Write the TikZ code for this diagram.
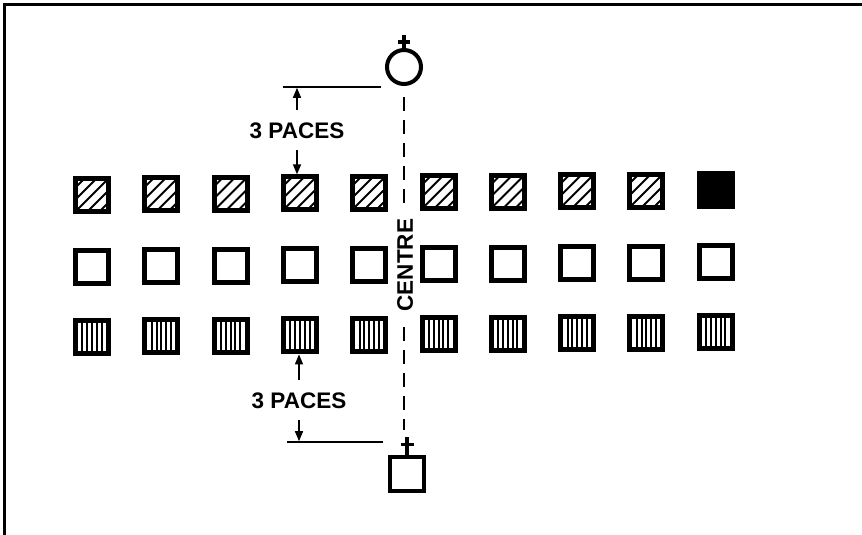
\documentclass[tikz,border=0pt]{standalone}
\usepackage{fontspec}
\setmainfont{Liberation Sans}
\usetikzlibrary{arrows.meta}
\begin{document}
\begin{tikzpicture}[x=1pt,y=-1pt,
  sq/.style={draw, line width=5pt, minimum size=33pt, inner sep=0pt, fill=white},
  hatchsq/.style={sq, path picture={
      \foreach \c in {-24,-12,0,12,24}{
        \draw[line width=1.8pt] ([xshift=\c pt]path picture bounding box.center) ++(-22,22) -- ++(44,-44);}}},
  stripesq/.style={sq, path picture={
      \foreach \c in {-9.6,-4.8,0,4.8,9.6}{
        \draw[line width=2pt] ([xshift=\c pt]path picture bounding box.center) ++(0,-22) -- ++(0,44);}}},
  blacksq/.style={sq, fill=black},
  emptysq/.style={sq},
  lbl/.style={font=\fontsize{22.5}{22.5}\selectfont\bfseries, text height=16pt, text depth=0pt, inner xsep=0pt, inner ysep=12pt},
  arr/.style={line width=1.4pt, -{Triangle[width=8pt,length=10pt]}},
  rule/.style={line width=1.5pt},
  crossline/.style={line width=3.2pt},
  centreline/.style={line width=2pt, dash pattern=on 14pt off 9pt}
]
\useasboundingbox (0,0) rectangle (862,535);
% frame
\draw[line width=3pt] (4,535) -- (4,5) -- (862,5);

% rows of squares
\foreach \k in {0,...,8}{
  \node[hatchsq] (h\k) at ({92+69.3*\k},{195-0.55*\k}) {};
}
\node[blacksq] (h9) at ({92+69.3*9},{195-0.55*9}) {};
\foreach \k in {0,...,9}{
  \node[emptysq] (e\k) at ({92+69.3*\k},{267-0.55*\k}) {};
  \node[stripesq] (v\k) at ({92+69.3*\k},{337-0.55*\k}) {};
}

% top marker
\node[draw, circle, line width=4pt, minimum size=34pt, inner sep=0pt] (circ) at (404,67) {};
\draw[crossline] (circ.north) -- ++(0,-13);
\draw[crossline] ([yshift=6pt]circ.north) ++(-6,0) -- ++(12,0);

% bottom marker
\node[sq, line width=4.5pt, minimum size=34pt] (bsq) at (407,474) {};
\draw[crossline] (bsq.north) -- ++(0,-18);
\draw[crossline] ([yshift=10pt]bsq.north) ++(-6.5,0) -- ++(13,0);

% centre line
\draw[centreline] ([yshift=-11pt]circ.south) -- ([yshift=25pt]circ.south |- bsq.north);
\node[font=\fontsize{22.5}{22.5}\selectfont\bfseries, rotate=90, fill=white, inner xsep=9pt, inner ysep=2pt] (ctr) at (405,265) {CENTRE};

% top dimension
\coordinate (l1a) at (283,87);
\coordinate (l1b) at (381,87);
\draw[rule] (l1a) -- (l1b);
\node[lbl] (t1) at (297,130) {3 PACES};
\draw[arr, shorten >=0.8pt] (t1.north) -- (t1.north |- l1a);
\draw[arr] (t1.south) -- (t1.south |- h3.north);

% bottom dimension
\coordinate (l2a) at (287,442);
\coordinate (l2b) at (383,442);
\draw[rule] (l2a) -- (l2b);
\node[lbl] (t2) at (299,400) {3 PACES};
\draw[arr] (t2.north) -- (t2.north |- v3.south);
\draw[arr, shorten >=0.8pt] (t2.south) -- (t2.south |- l2a);
\end{tikzpicture}
\end{document}
